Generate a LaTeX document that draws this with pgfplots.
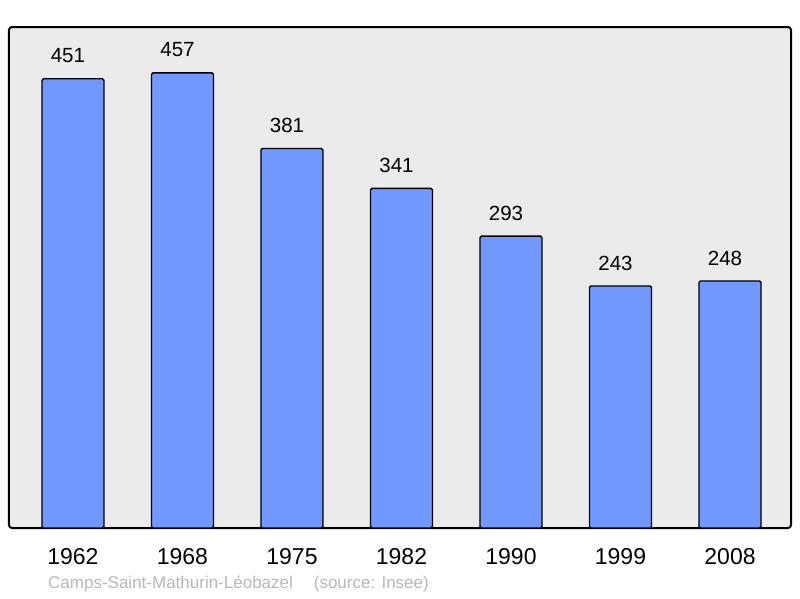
\documentclass[border=0pt]{standalone}
\usepackage{pgfplots}
\pgfplotsset{compat=1.18}
\usepackage{fontspec}
\setmainfont{Liberation Sans}
\definecolor{barblue}{HTML}{7098FF}
\definecolor{bggray}{HTML}{EBEBEB}
\definecolor{srcgray}{HTML}{B8B8B8}
\begin{document}
\begin{tikzpicture}[x=1pt,y=1pt]
\path[use as bounding box] (0,0) rectangle (800,598);
\begin{axis}[
  at={(9pt,70pt)}, anchor=south west,
  scale only axis, width=782pt, height=501pt,
  xmin=-0.584, xmax=6.557, ymin=0, ymax=503,
  axis background/.style={fill=bggray},
  axis line style={line width=2pt, rounded corners=3pt},
  ybar, bar width=62pt,
  xtick={0,1,2,3,4,5,6},
  xticklabels={1962,1968,1975,1982,1990,1999,2008},
  major tick length=0pt,
  ytick=\empty,
  xticklabel style={font=\fontsize{23}{26}\selectfont, inner sep=0pt, yshift=-20pt},
  /pgf/number format/assume math mode=true,
  nodes near coords,
  every node near coord/.append style={font=\fontsize{20.5}{23}\selectfont, inner sep=0pt, anchor=south, yshift=15pt, xshift=-5pt},
]
\addplot[fill=barblue, draw=black, line width=1.4pt, rounded corners=1.5pt] coordinates {
(0,451) (1,457) (2,381) (3,341) (4,293) (5,243) (6,248)
};
\end{axis}
\node[anchor=west, inner sep=0pt, text=srcgray, font=\fontsize{17}{20}\selectfont] at (48,14) {Camps-Saint-Mathurin-Léobazel\hspace{21pt}(source: Insee)};
\end{tikzpicture}
\end{document}
